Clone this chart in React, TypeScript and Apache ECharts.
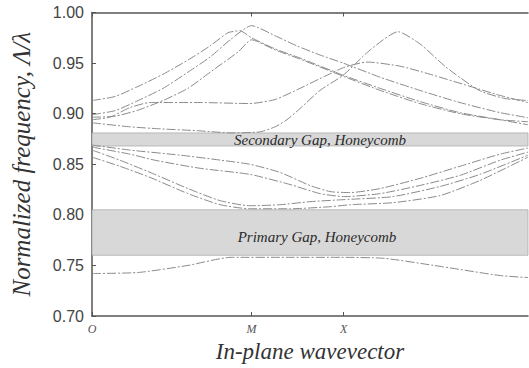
import React, { useEffect, useRef } from "react";
import * as echarts from "echarts";

// wavevector path positions (O -> M -> X -> end), normalized path length
const symPoints = [0, 0.366, 0.577];
const symLabels = ["O", "M", "X"];

// y-axis ticks
const yMin = 0.7;
const yMax = 1.0;
const yStep = 0.05;

// photonic gaps
const primaryGap = [0.76, 0.805];
const secondaryGap = [0.868, 0.881];
const primaryGapLabel = "Primary Gap, Honeycomb";
const secondaryGapLabel = "Secondary Gap, Honeycomb";

// bands: [k, normalized frequency]
const bandA = [[0, 0.913], [0.053, 0.917], [0.106, 0.927], [0.163, 0.939], [0.22, 0.953], [0.271, 0.967], [0.312, 0.98], [0.339, 0.982], [0.366, 0.975], [0.42, 0.964], [0.477, 0.955], [0.576, 0.938], [0.661, 0.925], [0.752, 0.912], [0.844, 0.901], [0.936, 0.894], [1, 0.889]];
const bandB = [[0, 0.899], [0.053, 0.903], [0.106, 0.913], [0.163, 0.925], [0.22, 0.941], [0.271, 0.956], [0.317, 0.973], [0.366, 0.987], [0.42, 0.977], [0.47, 0.967], [0.523, 0.958], [0.576, 0.95], [0.661, 0.936], [0.752, 0.923], [0.844, 0.911], [0.936, 0.901], [1, 0.896]];
const bandC = [[0, 0.8965], [0.053, 0.8975], [0.106, 0.9035], [0.163, 0.913], [0.22, 0.925], [0.271, 0.941], [0.335, 0.961], [0.366, 0.973], [0.42, 0.963], [0.477, 0.954], [0.576, 0.937], [0.661, 0.923], [0.752, 0.91], [0.844, 0.9], [0.936, 0.894], [1, 0.892]];
const bandP = [[0, 0.894], [0.041, 0.8965], [0.087, 0.906], [0.133, 0.911], [0.248, 0.911], [0.362, 0.91], [0.42, 0.914], [0.477, 0.925], [0.534, 0.937], [0.58, 0.946], [0.631, 0.951], [0.706, 0.947], [0.775, 0.939], [0.867, 0.927], [0.936, 0.918], [1, 0.911]];
const bandS = [[0, 0.891], [0.087, 0.887], [0.156, 0.885], [0.248, 0.883], [0.317, 0.881], [0.385, 0.882], [0.42, 0.887], [0.447, 0.894], [0.477, 0.905], [0.523, 0.923], [0.576, 0.938], [0.638, 0.963], [0.702, 0.981], [0.752, 0.969], [0.812, 0.946], [0.888, 0.923], [0.947, 0.915], [1, 0.913]];
const bandD = [[0, 0.869], [0.087, 0.864], [0.202, 0.859], [0.296, 0.854], [0.362, 0.85], [0.431, 0.842], [0.5, 0.829], [0.546, 0.823], [0.592, 0.822], [0.661, 0.826], [0.752, 0.836], [0.844, 0.848], [0.936, 0.86], [1, 0.866]];
const bandE = [[0, 0.867], [0.087, 0.86], [0.144, 0.854], [0.248, 0.846], [0.362, 0.84], [0.454, 0.83], [0.523, 0.821], [0.58, 0.818], [0.661, 0.821], [0.752, 0.829], [0.844, 0.839], [0.936, 0.854], [1, 0.862]];
const bandF = [[0, 0.864], [0.064, 0.854], [0.133, 0.842], [0.22, 0.826], [0.294, 0.814], [0.362, 0.809], [0.431, 0.81], [0.5, 0.813], [0.576, 0.815], [0.69, 0.818], [0.798, 0.828], [0.89, 0.84], [1, 0.859]];
const bandG = [[0, 0.857], [0.064, 0.848], [0.133, 0.837], [0.22, 0.821], [0.294, 0.81], [0.362, 0.806], [0.454, 0.806], [0.546, 0.808], [0.592, 0.81], [0.69, 0.812], [0.798, 0.819], [0.89, 0.834], [1, 0.857]];
const bandH = [[0, 0.742], [0.106, 0.743], [0.22, 0.75], [0.319, 0.758], [0.45, 0.758], [0.571, 0.758], [0.67, 0.757], [0.784, 0.75], [0.936, 0.74], [1, 0.738]];

const bands = [bandA, bandB, bandC, bandP, bandS, bandD, bandE, bandF, bandG, bandH];

export default function App() {
  const ref = useRef<HTMLDivElement>(null);
  useEffect(() => {
    if (!ref.current) return;
    const chart = echarts.init(ref.current, null, { renderer: "svg" });
    const serif = "'Liberation Serif', 'DejaVu Serif', serif";
    const sans = "'Liberation Sans', Arial, sans-serif";
    const axisColor = "#555";
    const lineSeries: any[] = bands.map((b) => ({
      type: "line",
      data: b,
      smooth: 0.2,
      showSymbol: false,
      symbol: "none",
      lineStyle: { color: "#8a8a8a", width: 1, type: [9, 2, 2, 2] },
      z: 3,
    }));
    lineSeries.push({
      type: "line",
      data: [],
      markArea: {
        silent: true,
        itemStyle: { color: "#d8d8d8", borderColor: "#9a9a9a", borderWidth: 0.6 },
        label: {
          show: true,
          position: "inside",
          fontFamily: serif,
          fontStyle: "italic",
          fontSize: 15,
          color: "#2a2a2a",
        },
        data: [
          [
            { xAxis: 0, yAxis: primaryGap[0], name: primaryGapLabel, label: { offset: [7, 4] } },
            { xAxis: 1, yAxis: primaryGap[1] },
          ],
          [
            { xAxis: 0, yAxis: secondaryGap[0], name: secondaryGapLabel, label: { offset: [10, 1] } },
            { xAxis: 1, yAxis: secondaryGap[1] },
          ],
        ],
      },
      z: 1,
    });
    chart.setOption({
      animation: false,
      grid: { left: 92, right: 1, top: 12.5, bottom: 52, containLabel: false, outerBoundsMode: "none" },
      xAxis: [
        {
          type: "value",
          min: 0,
          max: 1,
          name: "In-plane wavevector",
          nameLocation: "middle",
          nameGap: 22,
          nameTextStyle: { fontFamily: serif, fontStyle: "italic", fontSize: 23, color: "#333" },
          axisLine: { show: true, lineStyle: { color: axisColor, width: 1.5 } },
          axisTick: { show: true, inside: true, length: 4, customValues: symPoints, lineStyle: { color: axisColor } },
          axisLabel: {
            show: true,
            customValues: symPoints,
            margin: 7,
            fontFamily: serif,
            fontStyle: "italic",
            fontSize: 12,
            color: "#555",
            formatter: (v: number) => {
              const i = symPoints.findIndex((p) => Math.abs(p - v) < 1e-6);
              return i >= 0 ? symLabels[i] : "";
            },
          },
          splitLine: { show: false },
        },
        {
          type: "value",
          position: "top",
          min: 0,
          max: 1,
          axisLine: { show: true, onZero: false, lineStyle: { color: axisColor, width: 1.5 } },
          axisTick: { show: true, inside: true, length: 4, customValues: symPoints, lineStyle: { color: axisColor } },
          axisLabel: { show: false },
          splitLine: { show: false },
        },
      ],
      yAxis: {
        type: "value",
        min: yMin,
        max: yMax,
        interval: yStep,
        name: "Normalized frequency, Λ/λ",
        nameLocation: "middle",
        nameRotate: 90,
        nameGap: 58,
        nameTextStyle: { fontFamily: serif, fontStyle: "italic", fontSize: 25, color: "#333" },
        axisLine: { show: true, lineStyle: { color: axisColor, width: 1.5 } },
        axisTick: { show: true, inside: true, length: 4, lineStyle: { color: axisColor } },
        axisLabel: {
          margin: 8,
          fontFamily: sans,
          fontSize: 16,
          color: "#444",
          formatter: (v: number) => v.toFixed(2),
        },
        splitLine: { show: false },
      },
      series: lineSeries,
    });
    return () => chart.dispose();
  }, []);
  return <div ref={ref} style={{ position: "absolute", left: 0, top: 0, width: 529, height: 368 }} />;
}
